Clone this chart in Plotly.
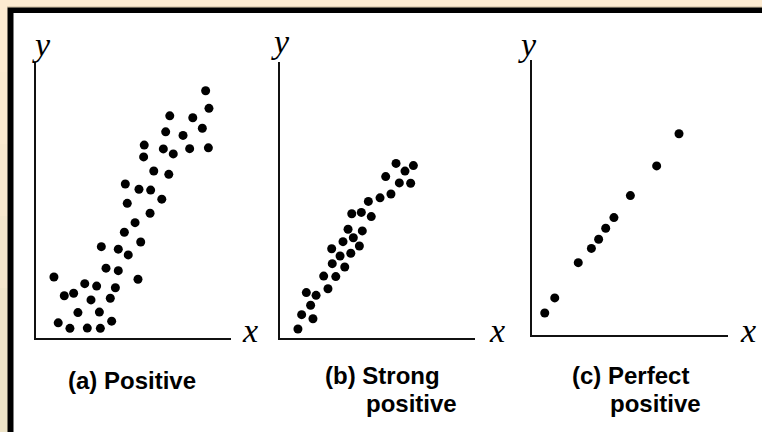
import plotly.graph_objects as go

W, H = 762, 432

# (a) positive - values in axis units 0-10
pos_x = [8.70, 8.87, 6.86, 8.04, 6.65, 8.53, 7.54, 5.55, 6.53, 7.04, 7.88, 8.84, 5.52, 6.04, 6.81,
         4.58, 5.28, 5.88, 6.45, 4.68, 5.85, 5.08, 4.53, 5.37, 3.35, 4.22, 4.73, 3.59, 4.22, 0.92,
         5.23, 2.50, 3.11, 1.93, 1.45, 4.07, 2.82, 3.81, 2.15, 3.25, 1.14, 1.74, 2.63, 3.30, 3.88]
pos_y = [8.96, 8.32, 8.05, 7.98, 7.47, 7.60, 7.34, 6.99, 6.85, 6.67, 6.86, 6.89, 6.56, 6.05, 5.93,
         5.58, 5.39, 5.36, 5.03, 4.88, 4.52, 4.18, 3.83, 3.48, 3.31, 3.22, 3.01, 2.53, 2.44, 2.21,
         2.13, 1.97, 1.88, 1.62, 1.53, 1.82, 1.38, 1.44, 0.92, 0.94, 0.55, 0.35, 0.36, 0.35, 0.61]

# (b) strong positive
strong_x = [5.95, 6.41, 6.84, 5.42, 6.12, 6.70, 5.69, 5.13, 4.53, 3.68, 4.17, 4.68, 3.49, 4.22, 3.76,
            3.23, 4.07, 2.65, 3.63, 3.08, 2.68, 3.32, 2.24, 2.86, 2.46, 1.35, 1.85, 1.57, 1.11, 1.69, 0.92]
strong_y = [6.32, 6.04, 6.24, 5.84, 5.61, 5.60, 5.21, 5.07, 4.94, 4.49, 4.54, 4.39, 3.93, 3.87, 3.62,
            3.48, 3.32, 3.22, 3.06, 2.96, 2.68, 2.56, 2.23, 2.21, 1.77, 1.63, 1.53, 1.17, 0.83, 0.68, 0.31]

# (c) perfect positive
perfect_x = [7.50, 6.36, 5.02, 4.18, 3.76, 3.40, 3.03, 2.36, 1.16, 0.65]
perfect_y = [7.32, 6.15, 5.07, 4.27, 3.88, 3.48, 3.15, 2.63, 1.35, 0.80]

titles = [["(a) Positive"], ["(b) Strong", "positive"], ["(c) Perfect", "positive"]]


def fx(p):
    return p / W


def fy(p):
    return 1 - p / H


# pixel boxes of each panel: left, right, top, bottom
boxes = [(36, 231, 62, 338), (280, 475, 62, 337.5), (532, 728, 60, 335)]
series = [(pos_x, pos_y), (strong_x, strong_y), (perfect_x, perfect_y)]

fig = go.Figure()
layout_axes = {}
for i, ((xs, ys), (l, r, t, b)) in enumerate(zip(series, boxes)):
    n = '' if i == 0 else str(i + 1)
    fig.add_trace(go.Scatter(x=xs, y=ys, mode='markers', xaxis='x' + n, yaxis='y' + n,
                             marker=dict(color='black', size=9), cliponaxis=False,
                             showlegend=False, hoverinfo='skip'))
    common = dict(range=[0, 10], showgrid=False, zeroline=False, showticklabels=False,
                  ticks='', showline=True, linecolor='#111', linewidth=1.5, fixedrange=True)
    layout_axes['xaxis' + n] = dict(domain=[fx(l), fx(r)], anchor='y' + n, **common)
    layout_axes['yaxis' + n] = dict(domain=[fy(b), fy(t)], anchor='x' + n, **common)

fig.update_layout(**layout_axes)

# frame: cream surround, black border, white inside
shapes = []
cream = ['#fdebd1', '#fbead0', '#f8e8ce', '#f4e6cc', '#f0e4c9', '#ede3c7']
for k, c in enumerate(cream):
    shapes.append(dict(type='rect', xref='paper', yref='paper', layer='below',
                       x0=0, x1=1, y0=fy(H * (k + 1) / len(cream)), y1=fy(H * k / len(cream)),
                       fillcolor=c, line_width=0))
shapes.append(dict(type='line', xref='paper', yref='paper', layer='below',
                   x0=fx(7), x1=1, y0=fy(7), y1=fy(7), line=dict(color='#c8b89a', width=1)))
shapes.append(dict(type='rect', xref='paper', yref='paper', layer='below',
                   x0=fx(7.5), x1=1.01, y0=-0.01, y1=fy(7.5), fillcolor='black', line_width=0))
shapes.append(dict(type='rect', xref='paper', yref='paper', layer='below',
                   x0=fx(13.5), x1=1.01, y0=-0.01, y1=fy(13), fillcolor='white', line_width=0))

annotations = []
axis_font = dict(family='Liberation Serif', size=34, color='black')
y_pos = [(41, 44), (280, 42), (527, 44)]
x_pos = [(250, 330), (497, 330), (748, 330)]
for (ax, ay), (bx, by) in zip(y_pos, x_pos):
    annotations.append(dict(text='<i>y</i>', x=fx(ax), y=fy(ay), xref='paper', yref='paper',
                            showarrow=False, font=axis_font, xanchor='center', yanchor='middle'))
    annotations.append(dict(text='<i>x</i>', x=fx(bx), y=fy(by), xref='paper', yref='paper',
                            showarrow=False, font=axis_font, xanchor='center', yanchor='middle'))

title_font = dict(family='Liberation Sans', size=24, color='black')
title_pos = [[(132, 380)], [(383, 375), (411, 403)], [(630, 375), (655, 403)]]
for lines, pos in zip(titles, title_pos):
    for txt, (tx, ty) in zip(lines, pos):
        annotations.append(dict(text='<b>' + txt + '</b>', x=fx(tx), y=fy(ty), xref='paper',
                                yref='paper', showarrow=False, font=title_font,
                                xanchor='center', yanchor='middle'))

fig.update_layout(width=W, height=H, autosize=False, margin=dict(l=0, r=0, t=0, b=0),
                  paper_bgcolor='#fbead0', plot_bgcolor='rgba(0,0,0,0)',
                  shapes=shapes, annotations=annotations)

# drop the page's default body margin so the figure sits at the window corner
fig.write_html("out.html", config={'displayModeBar': False},
               post_script="document.body.style.margin='0';document.body.style.overflow='hidden';")
